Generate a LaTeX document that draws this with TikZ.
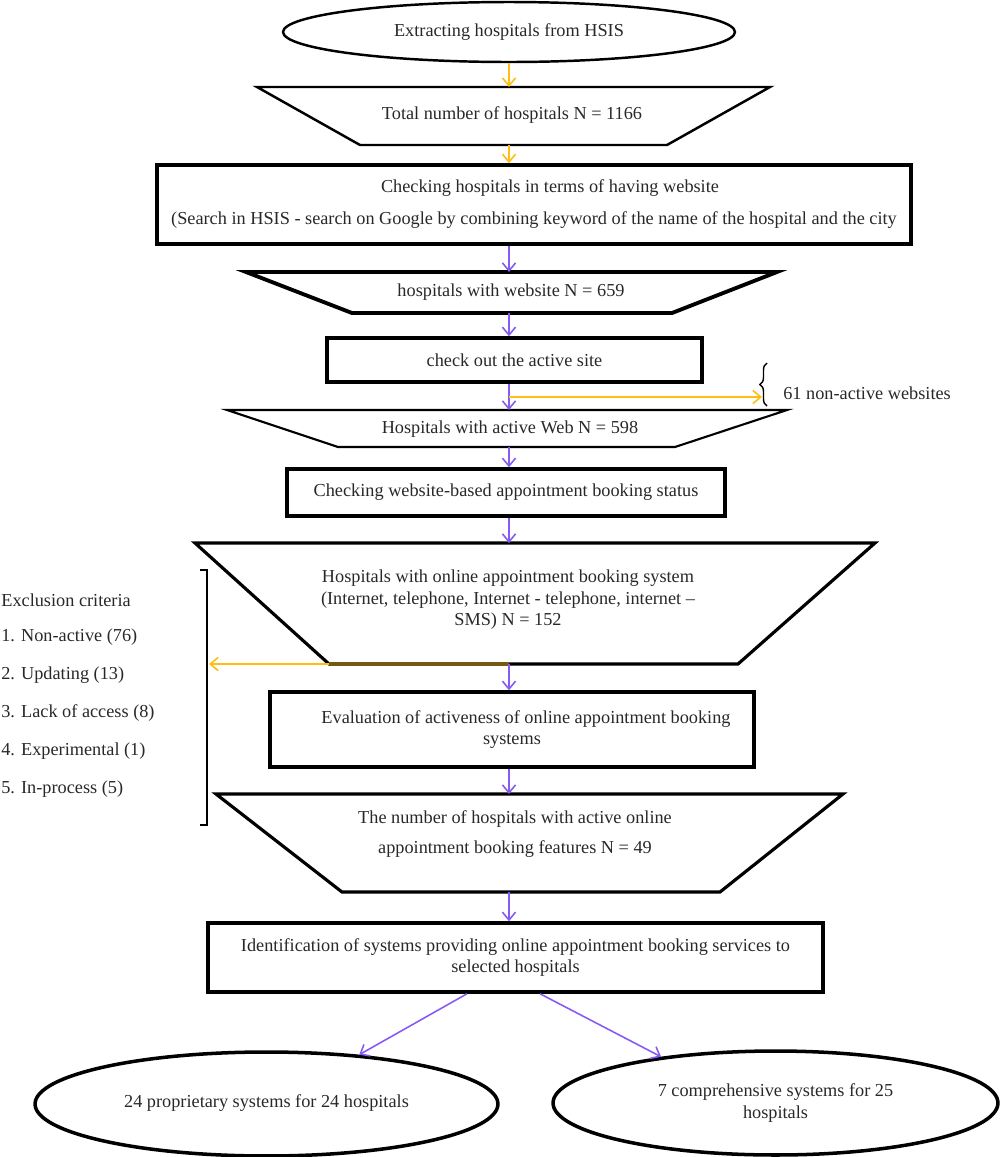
\documentclass[tikz,border=0pt]{standalone}
\usepackage{fontspec}
\setmainfont{Liberation Serif}
\usetikzlibrary{arrows.meta,shapes.geometric,decorations.pathreplacing}
\definecolor{arry}{RGB}{255,190,20}
\definecolor{arrp}{RGB}{135,90,245}
\definecolor{txtc}{RGB}{40,40,40}
\definecolor{edgegold}{RGB}{115,90,20}
\begin{document}
\begin{tikzpicture}[x=0.02cm,y=-0.02cm,
  every node/.style={text=txtc, font=\fontsize{10.4}{12.2}\selectfont},
  rbox/.style={draw=black, line width=2pt, inner sep=0pt, align=center},
  ebox/.style={ellipse, draw=black, line width=1.6pt, inner sep=0pt, align=center},
  tbox/.style={draw=black, line width=1.8pt, line join=miter},
  yarrow/.style={draw=arry, line width=0.9pt, -{Straight Barb[length=4.5pt,width=7.5pt]}},
  parrow/.style={draw=arrp, line width=0.9pt, -{Straight Barb[length=4.5pt,width=7.5pt]}},
  lefttext/.style={anchor=west, inner sep=0pt}]
\useasboundingbox (0,0) rectangle (1000,1157);
\coordinate (ax) at (509,0);

% top ellipse
\node[ebox, line width=1.4pt, minimum width=9.04cm, minimum height=1.2cm] (e1) at (509,32) {Extracting hospitals from HSIS};

% trapezoid 1
\draw[tbox, line width=1.4pt] (257,87) -- (770,87) -- (667,145) -- (360,145) -- cycle;
\node (t1) at (512,115) {Total number of hospitals N = 1166};
\coordinate (t1top) at (509,87); \coordinate (t1bot) at (509,145);

% rect 2
\node[rbox, minimum width=15.08cm, minimum height=1.58cm] (r2) at (534,204.5)
  {\hspace*{0.64cm}Checking hospitals in terms of having website\\[6pt]
   (Search in HSIS - search on Google by combining keyword of the name of the hospital and the city};

% trapezoid 3
\draw[tbox, line width=2.2pt] (246,272) -- (777,272) -- (672,313) -- (352,313) -- cycle;
\node (t3) at (511,292) {hospitals with website N = 659};
\coordinate (t3top) at (509,272); \coordinate (t3bot) at (509,313);

% rect 4
\node[rbox, minimum width=7.5cm, minimum height=0.88cm] (r4) at (514.5,360) {check out the active site};

% trapezoid 5
\draw[tbox, line width=1.2pt] (227,410) -- (787,410) -- (675,447) -- (338,447) -- cycle;
\node (t5) at (510,429) {Hospitals with active Web N = 598};
\coordinate (t5top) at (509,410); \coordinate (t5bot) at (509,447);

% rect 6
\node[rbox, minimum width=8.76cm, minimum height=0.94cm] (r6) at (506,492.5) {Checking website-based appointment booking status};

% trapezoid 7
\draw[tbox] (195,543) -- (875,543) -- (738,664) -- (329,664) -- cycle;
\node[align=center] (t7) at (508,600) {Hospitals with online appointment booking system\\
  (Internet, telephone, Internet - telephone, internet –\\ SMS) N = 152};
\coordinate (t7top) at (509,543); \coordinate (t7bot) at (509,664); \coordinate (t7bl) at (329,664);

% rect 8
\node[rbox, minimum width=9.68cm, minimum height=1.5cm] (r8) at (512,729.5)
  {\hspace*{0.56cm}Evaluation of activeness of online appointment booking\\ systems};

% trapezoid 9
\draw[tbox] (216,794) -- (843,794) -- (720,892) -- (342,892) -- cycle;
\node[align=center] (t9) at (515,834) {The number of hospitals with active online\\[5pt]
  appointment booking features N = 49};
\coordinate (t9top) at (509,794); \coordinate (t9bot) at (509,892);

% rect 10
\node[rbox, minimum width=12.3cm, minimum height=1.38cm] (r10) at (515.5,957.5)
  {Identification of systems providing online appointment booking services to\\ selected hospitals};

% bottom ellipses
\node[ebox, line width=2pt, minimum width=9.26cm, minimum height=2.08cm] (e2) at (266.5,1104) {\raisebox{3pt}{24 proprietary systems for 24 hospitals}};
\node[ebox, line width=2pt, minimum width=8.9cm, minimum height=2.08cm] (e3) at (775.5,1103) {7 comprehensive systems for 25\\ hospitals};

% right note
\coordinate (bt) at (767,363); \coordinate (bb) at (767,406);
\draw[line width=0.8pt, black, decorate, decoration={brace, amplitude=4pt}] (bb) -- (bt);
\coordinate (b61) at (762,397);
\node[lefttext] (n61) at (783,393) {61 non-active websites};

% left exclusion list
\node[lefttext] (ex0) at (1,600) {Exclusion criteria};
\node[lefttext] (ex1) at (1,637) {1. Non-active (76)};
\node[lefttext] (ex2) at (1,675) {2. Updating (13)};
\node[lefttext] (ex3) at (1,713) {3. Lack of access (8)};
\node[lefttext] (ex4) at (1,751) {4. Experimental (1)};
\node[lefttext] (ex5) at (1,789) {5. In-process (5)};
\coordinate (bkt) at (207,570); \coordinate (bkb) at (207,825);
\draw[line width=1.5pt] ([xshift=-0.14cm]bkt) -- (bkt) -- (bkb) -- ([xshift=-0.14cm]bkb);
\coordinate (brk) at (209,664);

% connectors
\draw[yarrow] (e1.south -| ax) -- (t1top);
\draw[yarrow] (t1bot) -- (r2.north -| ax);
\draw[parrow] (r2.south -| ax) -- (t3top);
\draw[parrow] (t3bot) -- (r4.north -| ax);
\draw[parrow] (r4.south -| ax) -- (t5top);
\coordinate (split) at (509,397);
\draw[yarrow] (split) -- (b61);
\draw[parrow] (t5bot) -- (r6.north -| ax);
\draw[parrow] (r6.south -| ax) -- (t7top);
\draw[yarrow] (t7bot) -- (brk);
\draw[edgegold, line width=1.8pt] (t7bl) -- (t7bot);
\draw[parrow] (t7bot) -- (r8.north -| ax);
\draw[parrow] (r8.south -| ax) -- (t9top);
\draw[parrow] (t9bot) -- (r10.north -| ax);
\coordinate (l1) at (467,0); \coordinate (l2) at (540,0);
\draw[parrow] (r10.south -| l1) -- (e2.28);
\draw[parrow] (r10.south -| l2) -- (e3.158);
\end{tikzpicture}
\end{document}
